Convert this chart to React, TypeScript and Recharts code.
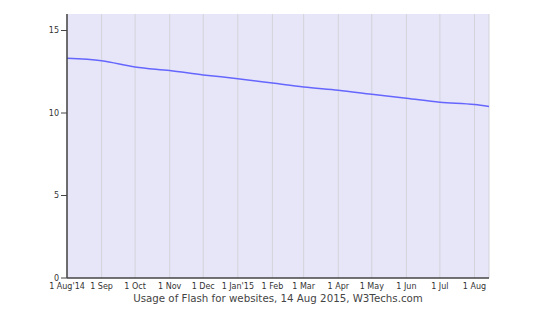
import React from "react";
import {
  LineChart,
  Line,
  XAxis,
  YAxis,
  CartesianGrid,
} from "recharts";

const START = Date.UTC(2014, 7, 1);
const DAY = 24 * 60 * 60 * 1000;

const dates = [
  "2014-08-01",
  "2014-09-01",
  "2014-10-01",
  "2014-11-01",
  "2014-12-01",
  "2015-01-01",
  "2015-02-01",
  "2015-03-01",
  "2015-04-01",
  "2015-05-01",
  "2015-06-01",
  "2015-07-01",
  "2015-08-01",
  "2015-08-14",
];

const flashUsage = [
  13.32, 13.17, 12.79, 12.57, 12.31, 12.08, 11.82, 11.58, 11.38, 11.14, 10.9,
  10.65, 10.51, 10.39,
];

const tickDates = dates.slice(0, 13);
const tickLabels = [
  "1 Aug'14",
  "1 Sep",
  "1 Oct",
  "1 Nov",
  "1 Dec",
  "1 Jan'15",
  "1 Feb",
  "1 Mar",
  "1 Apr",
  "1 May",
  "1 Jun",
  "1 Jul",
  "1 Aug",
];

const yTicks = [0, 5, 10, 15];

const toDay = (d: string) => Math.round((Date.parse(d + "T00:00:00Z") - START) / DAY);

const data = dates.map((d, i) => ({ day: toDay(d), value: flashUsage[i] }));
const xTicks = tickDates.map(toDay);
const lastDay = toDay(dates[dates.length - 1]);

const FONT = "'DejaVu Sans', Verdana, sans-serif";

export default function App() {
  return (
    <div
      style={{
        position: "absolute",
        left: 0,
        top: 0,
        width: 550,
        height: 320,
        background: "#fff",
        fontFamily: FONT,
      }}
    >
      <LineChart
        width={550}
        height={320}
        data={data}
        margin={{ top: 14, right: 61, left: 0, bottom: 0 }}
      >
        <CartesianGrid
          fill="#e6e6f8"
          stroke="#d3d3da"
          strokeWidth={1}
          horizontalValues={[5, 10, 15]}
        />
        <XAxis
          type="number"
          dataKey="day"
          domain={[0, lastDay]}
          ticks={xTicks}
          tickFormatter={(v: number) => tickLabels[xTicks.indexOf(v)] ?? ""}
          tick={{ fontSize: 8, fill: "#333", fontFamily: FONT }}
          tickLine={false}
          tickSize={0}
          tickMargin={5}
          axisLine={{ stroke: "#444", strokeWidth: 1.5 }}
          height={42}
          interval={0}
        />
        <YAxis
          yAxisId="left"
          domain={[0, 16]}
          ticks={yTicks}
          tick={{ fontSize: 8, fill: "#333", fontFamily: FONT }}
          tickLine={{ stroke: "#444" }}
          tickSize={6}
          axisLine={{ stroke: "#444", strokeWidth: 1.5 }}
          width={67}
          interval={0}
        />
        <YAxis
          yAxisId="right"
          orientation="right"
          domain={[0, 16]}
          tick={false}
          tickLine={false}
          axisLine={{ stroke: "#888", strokeWidth: 1.5 }}
          width={0}
        />
        <Line
          yAxisId="left"
          type="monotone"
          dataKey="value"
          stroke="#6666ff"
          strokeWidth={1.5}
          dot={false}
          isAnimationActive={false}
        />
      </LineChart>
      <div
        style={{
          position: "absolute",
          left: 67,
          width: 422,
          top: 292,
          lineHeight: "12px",
          textAlign: "center",
          fontSize: 10.25,
          color: "#444",
          fontFamily: FONT,
        }}
      >
        Usage of Flash for websites, 14 Aug 2015, W3Techs.com
      </div>
    </div>
  );
}
